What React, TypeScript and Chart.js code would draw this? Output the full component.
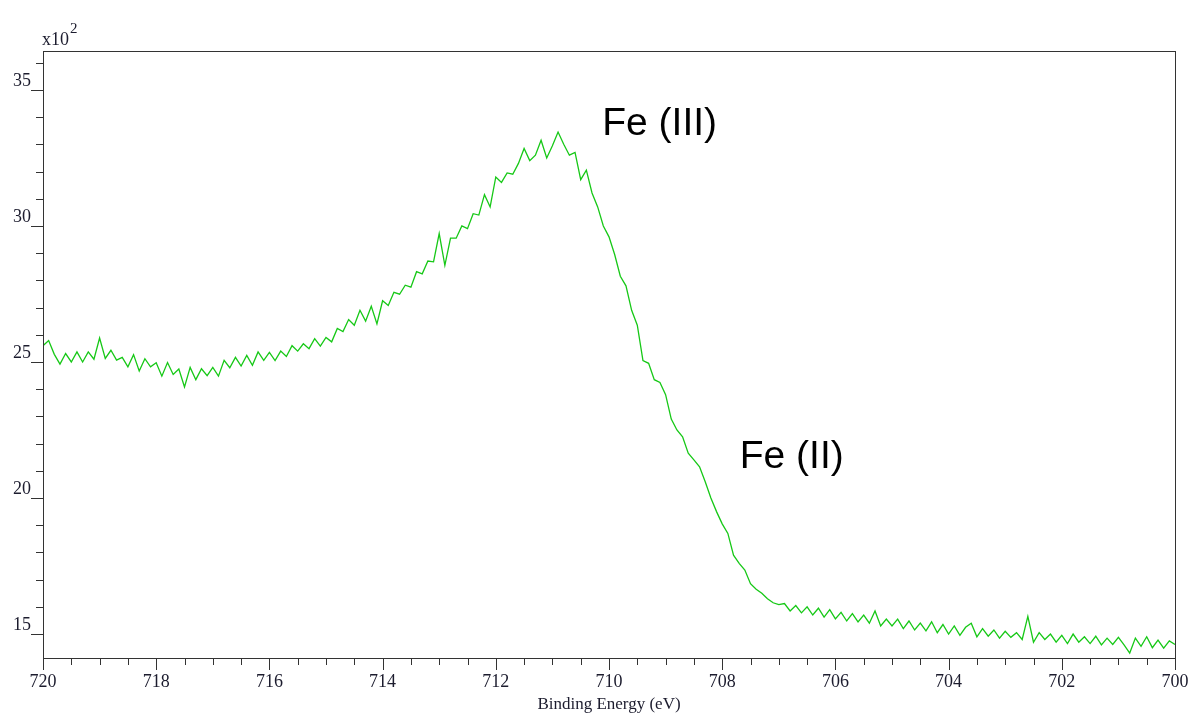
import React, { useEffect, useRef } from "react";
import { Chart, registerables } from "chart.js";

Chart.register(...registerables);

// Binding energy (eV), sampled every 0.1 eV from 720 down to 700
const ENERGIES: number[] = [
  720.0, 719.9, 719.8, 719.7, 719.6, 719.5, 719.4, 719.3, 719.2, 719.1,
  719.0, 718.9, 718.8, 718.7, 718.6, 718.5, 718.4, 718.3, 718.2, 718.1,
  718.0, 717.9, 717.8, 717.7, 717.6, 717.5, 717.4, 717.3, 717.2, 717.1,
  717.0, 716.9, 716.8, 716.7, 716.6, 716.5, 716.4, 716.3, 716.2, 716.1,
  716.0, 715.9, 715.8, 715.7, 715.6, 715.5, 715.4, 715.3, 715.2, 715.1,
  715.0, 714.9, 714.8, 714.7, 714.6, 714.5, 714.4, 714.3, 714.2, 714.1,
  714.0, 713.9, 713.8, 713.7, 713.6, 713.5, 713.4, 713.3, 713.2, 713.1,
  713.0, 712.9, 712.8, 712.7, 712.6, 712.5, 712.4, 712.3, 712.2, 712.1,
  712.0, 711.9, 711.8, 711.7, 711.6, 711.5, 711.4, 711.3, 711.2, 711.1,
  711.0, 710.9, 710.8, 710.7, 710.6, 710.5, 710.4, 710.3, 710.2, 710.1,
  710.0, 709.9, 709.8, 709.7, 709.6, 709.5, 709.4, 709.3, 709.2, 709.1,
  709.0, 708.9, 708.8, 708.7, 708.6, 708.5, 708.4, 708.3, 708.2, 708.1,
  708.0, 707.9, 707.8, 707.7, 707.6, 707.5, 707.4, 707.3, 707.2, 707.1,
  707.0, 706.9, 706.8, 706.7, 706.6, 706.5, 706.4, 706.3, 706.2, 706.1,
  706.0, 705.9, 705.8, 705.7, 705.6, 705.5, 705.4, 705.3, 705.2, 705.1,
  705.0, 704.9, 704.8, 704.7, 704.6, 704.5, 704.4, 704.3, 704.2, 704.1,
  704.0, 703.9, 703.8, 703.7, 703.6, 703.5, 703.4, 703.3, 703.2, 703.1,
  703.0, 702.9, 702.8, 702.7, 702.6, 702.5, 702.4, 702.3, 702.2, 702.1,
  702.0, 701.9, 701.8, 701.7, 701.6, 701.5, 701.4, 701.3, 701.2, 701.1,
  701.0, 700.9, 700.8, 700.7, 700.6, 700.5, 700.4, 700.3, 700.2, 700.1,
  700.0,
];

// Intensity (counts)
const INTENSITY: number[] = [
  2560, 2579, 2528, 2492, 2531, 2500, 2537, 2500, 2537, 2510,
  2588, 2513, 2543, 2507, 2517, 2482, 2527, 2467, 2512, 2482,
  2497, 2448, 2498, 2454, 2474, 2408, 2480, 2435, 2475, 2450,
  2480, 2448, 2506, 2479, 2517, 2485, 2524, 2488, 2537, 2506,
  2535, 2505, 2540, 2520, 2560, 2540, 2567, 2549, 2586, 2558,
  2590, 2574, 2623, 2612, 2656, 2635, 2690, 2650, 2705, 2640,
  2725, 2708, 2756, 2749, 2782, 2775, 2832, 2824, 2871, 2868,
  2972, 2855, 2955, 2955, 3000, 2990, 3045, 3040, 3115, 3070,
  3180, 3160, 3195, 3190, 3230, 3285, 3240, 3260, 3315, 3250,
  3295, 3345, 3300, 3260, 3270, 3170, 3205, 3121, 3070, 3000,
  2960, 2895, 2815, 2780, 2690, 2635, 2505, 2495, 2435, 2425,
  2380, 2290, 2250, 2225, 2165, 2140, 2115, 2060, 2000, 1950,
  1905, 1870, 1790, 1760, 1735, 1685, 1665, 1650, 1630, 1615,
  1608, 1612, 1585, 1605, 1578, 1600, 1570, 1595, 1562, 1590,
  1556, 1580, 1548, 1575, 1545, 1570, 1540, 1585, 1530, 1555,
  1530, 1555, 1520, 1548, 1515, 1540, 1512, 1545, 1505, 1535,
  1500, 1530, 1495, 1525, 1540, 1490, 1520, 1492, 1515, 1485,
  1510, 1488, 1505, 1480, 1565, 1470, 1505, 1480, 1500, 1470,
  1495, 1465, 1500, 1470, 1490, 1465, 1492, 1460, 1485, 1462,
  1488, 1460, 1430, 1485, 1455, 1490, 1450, 1478, 1448, 1475,
  1462,
];

const X_TICKS: number[] = [720, 718, 716, 714, 712, 710, 708, 706, 704, 702, 700];
const Y_TICKS: number[] = [1500, 2000, 2500, 3000, 3500];
const Y_TICK_LABELS: string[] = ["15", "20", "25", "30", "35"];

const ANNOTATIONS = [
  { text: "Fe (III)", ev: 710.12, counts: 3335 },
  { text: "Fe (II)", ev: 707.69, counts: 2110 },
];

const AXIS_COLOR = "#333333";
const TEXT_COLOR = "#1c1c2e";
const LINE_COLOR = "#16c816";
const SERIF = "'Liberation Serif', 'Times New Roman', serif";
const SANS = "'Liberation Sans', Arial, sans-serif";

const framePlugin = {
  id: "frame",
  afterDraw(chart: any) {
    const { ctx, chartArea: a, scales } = chart;
    const xs = scales.x;
    const ys = scales.y;
    ctx.save();
    ctx.strokeStyle = AXIS_COLOR;
    ctx.lineWidth = 1;
    ctx.strokeRect(Math.round(a.left) + 0.5, Math.round(a.top) + 0.5, Math.round(a.right - a.left), Math.round(a.bottom - a.top));
    ctx.beginPath();
    // x ticks every 0.5 eV (major at even values)
    for (let v = xs.min; v <= xs.max + 1e-6; v += 0.5) {
      const px = Math.round(xs.getPixelForValue(v)) + 0.5;
      const major = Math.abs(v / 2 - Math.round(v / 2)) < 1e-6;
      const len = major ? 12 : 7;
      ctx.moveTo(px, Math.round(a.bottom));
      ctx.lineTo(px, Math.round(a.bottom) + len);
    }
    // y ticks every 100 counts (major every 500)
    for (let v = Math.ceil(ys.min / 100) * 100; v <= ys.max; v += 100) {
      const py = Math.round(ys.getPixelForValue(v)) + 0.5;
      const len = v % 500 === 0 ? 12 : 7;
      ctx.moveTo(Math.round(a.left), py);
      ctx.lineTo(Math.round(a.left) - len, py);
    }
    ctx.stroke();

    // multiplier label
    ctx.fillStyle = TEXT_COLOR;
    ctx.textBaseline = "alphabetic";
    ctx.textAlign = "left";
    ctx.font = `18px ${SERIF}`;
    ctx.fillText("x10", a.left - 1, a.top - 6);
    const w = ctx.measureText("x10").width;
    ctx.font = `15px ${SERIF}`;
    ctx.fillText("2", a.left - 1 + w + 1, a.top - 18);

    // peak annotations
    ctx.fillStyle = "#000000";
    ctx.font = `39px ${SANS}`;
    for (const an of ANNOTATIONS) {
      ctx.fillText(an.text, xs.getPixelForValue(an.ev), ys.getPixelForValue(an.counts));
    }
    ctx.restore();
  },
};

export default function App() {
  const canvasRef = useRef<HTMLCanvasElement | null>(null);

  useEffect(() => {
    const canvas = canvasRef.current;
    if (!canvas) return;
    const points = ENERGIES.map((e, i) => ({ x: e, y: INTENSITY[i] }));
    const chart = new Chart(canvas, {
      type: "line",
      data: {
        datasets: [
          {
            data: points,
            borderColor: LINE_COLOR,
            borderWidth: 1.3,
            pointRadius: 0,
            tension: 0,
            fill: false,
          },
        ],
      },
      options: {
        responsive: false,
        animation: false,
        events: [],
        layout: { padding: { left: 0, right: 17, top: 51, bottom: 0 } },
        plugins: {
          legend: { display: false },
          tooltip: { enabled: false },
          title: { display: false },
        },
        scales: {
          x: {
            type: "linear",
            reverse: true,
            min: 700,
            max: 720,
            afterBuildTicks: (scale: any) => {
              scale.ticks = X_TICKS.map((v) => ({ value: v }));
            },
            afterFit: (scale: any) => {
              scale.height = 59;
              scale.paddingLeft = 0;
              scale.paddingRight = 0;
            },
            grid: { display: false, drawTicks: false },
            border: { display: false },
            ticks: {
              autoSkip: false,
              maxRotation: 0,
              padding: 13,
              color: TEXT_COLOR,
              font: { family: SERIF, size: 18 },
              callback: (v: any) => String(v),
            },
            title: {
              display: true,
              text: "Binding Energy (eV)",
              color: TEXT_COLOR,
              font: { family: SERIF, size: 17 },
              padding: { top: 0, bottom: 2 },
            },
          },
          y: {
            type: "linear",
            min: 1412,
            max: 3643,
            afterBuildTicks: (scale: any) => {
              scale.ticks = Y_TICKS.map((v) => ({ value: v }));
            },
            afterFit: (scale: any) => {
              scale.width = 43;
              scale.paddingTop = 0;
              scale.paddingBottom = 0;
            },
            grid: { display: false, drawTicks: false },
            border: { display: false },
            ticks: {
              padding: 12,
              labelOffset: -9,
              color: TEXT_COLOR,
              font: { family: SERIF, size: 18 },
              callback: (v: any) => {
                const i = Y_TICKS.indexOf(Number(v));
                return i >= 0 ? Y_TICK_LABELS[i] : "";
              },
            },
          },
        },
      },
      plugins: [framePlugin],
    });
    return () => chart.destroy();
  }, []);

  return (
    <div style={{ position: "absolute", left: 0, top: 0, width: 1192, height: 717, background: "#ffffff" }}>
      <canvas ref={canvasRef} width={1192} height={717} style={{ display: "block" }} />
    </div>
  );
}
